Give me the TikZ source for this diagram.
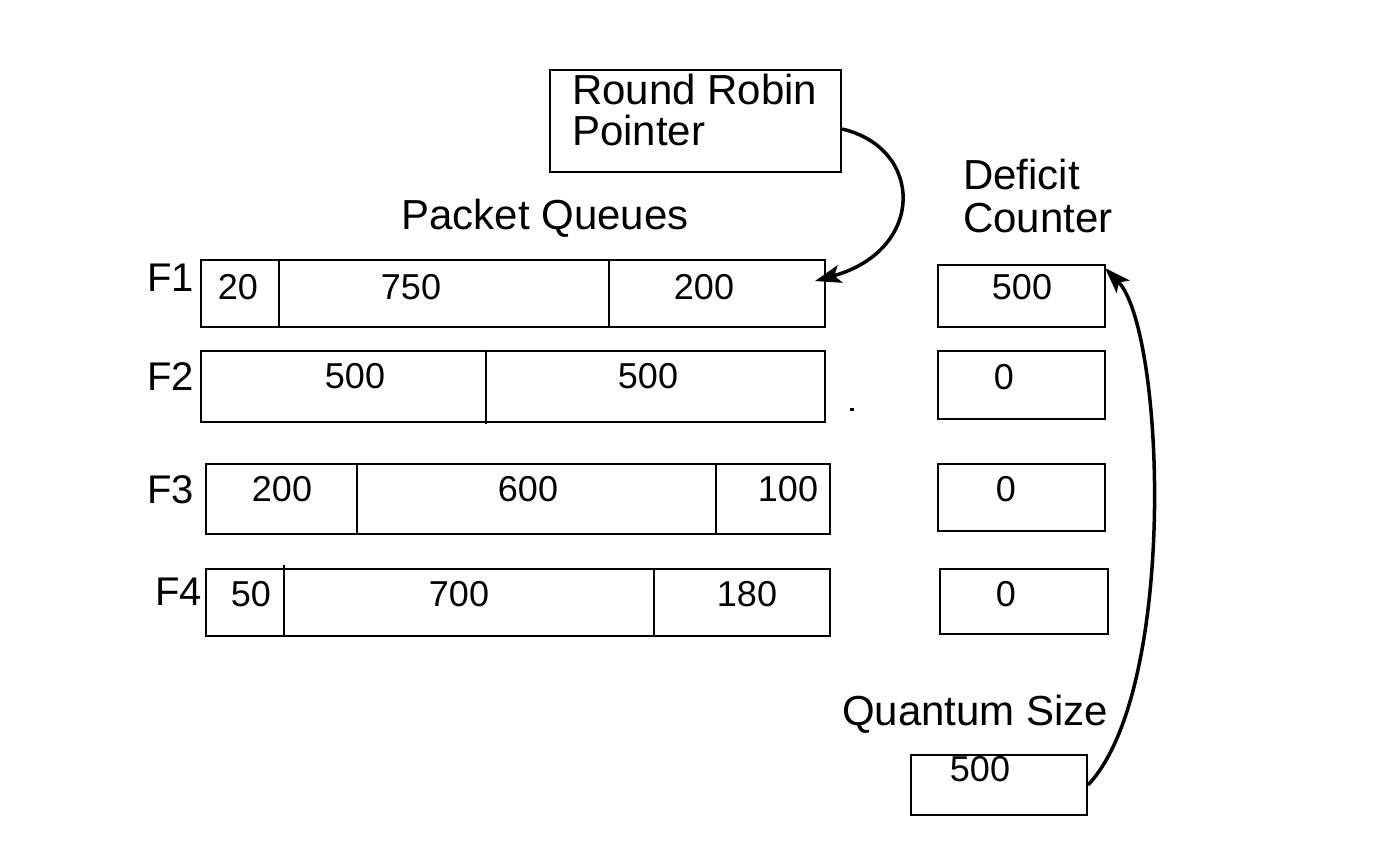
\documentclass[tikz,border=0pt]{standalone}
\usepackage{fontspec}
\setmainfont{Liberation Sans}
\usetikzlibrary{arrows.meta}
\begin{document}
\begin{tikzpicture}[x=1pt,y=-1pt,
  lbl/.style={font=\fontsize{42}{48}\selectfont, inner sep=0},
  flbl/.style={font=\fontsize{40}{46}\selectfont, inner sep=0, anchor=base west},
  num/.style={font=\fontsize{36}{40}\selectfont, inner sep=0},
  box/.style={draw, line width=2pt, inner sep=0, anchor=north west},
  divider/.style={line width=2pt},
  conn/.style={line width=3.5pt, -{Stealth[length=26pt,width=18pt,inset=6pt]}}]
\useasboundingbox (0,0) rectangle (1382,850);

% Round robin pointer
\node[box, minimum width=291, minimum height=102] (rr) at (549,69) {};
\node[lbl, anchor=base west] (rrt1) at (572,105) {Round Robin};
\node[lbl, anchor=base west] (rrt2) at (572,146) {Pointer};

% headings
\node[lbl, anchor=base] (pq) at (545,230) {Packet Queues};
\node[lbl, anchor=base west] (dc1) at (963,190) {Deficit};
\node[lbl, anchor=base west] (dc2) at (963,233) {Counter};

% flow labels
\node[flbl] (f1) at (147,292) {F1};
\node[flbl] (f2) at (147,390) {F2};
\node[flbl] (f3) at (147,503) {F3};
\node[flbl] (f4) at (155,605) {F4};

% queues
\node[box, minimum width=624, minimum height=67] (q1) at (200,259) {};
\draw[divider] (279,259) -- (279,326);
\draw[divider] (609,259) -- (609,326);
\node[num] (q1a) at (238,287) {20};
\node[num] (q1b) at (411,287) {750};
\node[num] (q1c) at (704,287) {200};

\node[box, minimum width=624, minimum height=71] (q2) at (200,350) {};
\draw[divider] (486,350) -- (486,424);
\node[num] (q2a) at (355,376) {500};
\node[num] (q2b) at (648,376) {500};

\node[box, minimum width=624, minimum height=70] (q3) at (205,463) {};
\draw[divider] (357,463) -- (357,533);
\draw[divider] (716,463) -- (716,533);
\node[num] (q3a) at (282,489) {200};
\node[num] (q3b) at (528,489) {600};
\node[num] (q3c) at (788,489) {100};

\node[box, minimum width=624, minimum height=67] (q4) at (205,568) {};
\draw[divider] (284,565) -- (284,635);
\draw[divider] (654,568) -- (654,635);
\node[num] (q4a) at (251,594) {50};
\node[num] (q4b) at (459,594) {700};
\node[num] (q4c) at (747,594) {180};

% stray dot
\fill (850,408) rectangle (854,411);

% deficit counters
\node[box, minimum width=167, minimum height=62] (d1) at (937,264) {};
\node[num] (d1t) at (1022,287) {500};
\node[box, minimum width=167, minimum height=68] (d2) at (937,350) {};
\node[num] (d2t) at (1004,377) {0};
\node[box, minimum width=167, minimum height=67] (d3) at (937,463) {};
\node[num] (d3t) at (1006,489) {0};
\node[box, minimum width=168, minimum height=65] (d4) at (939,568) {};
\node[num] (d4t) at (1006,594) {0};

% quantum
\node[lbl, anchor=base west] (qs) at (842,725) {Quantum Size};
\node[box, minimum width=176, minimum height=60] (qb) at (910,754) {};
\node[num] (qbt) at (980,769) {500};

% connectors
\coordinate (p1) at (815,281);
\coordinate (p2) at (1105,268);
\draw[conn] ([yshift=-8pt]rr.east) .. controls (924,148) and (926,250) .. (p1);
\draw[conn] (qb.east) .. controls (1178,690) and (1165,330) .. (p2);
\end{tikzpicture}
\end{document}
